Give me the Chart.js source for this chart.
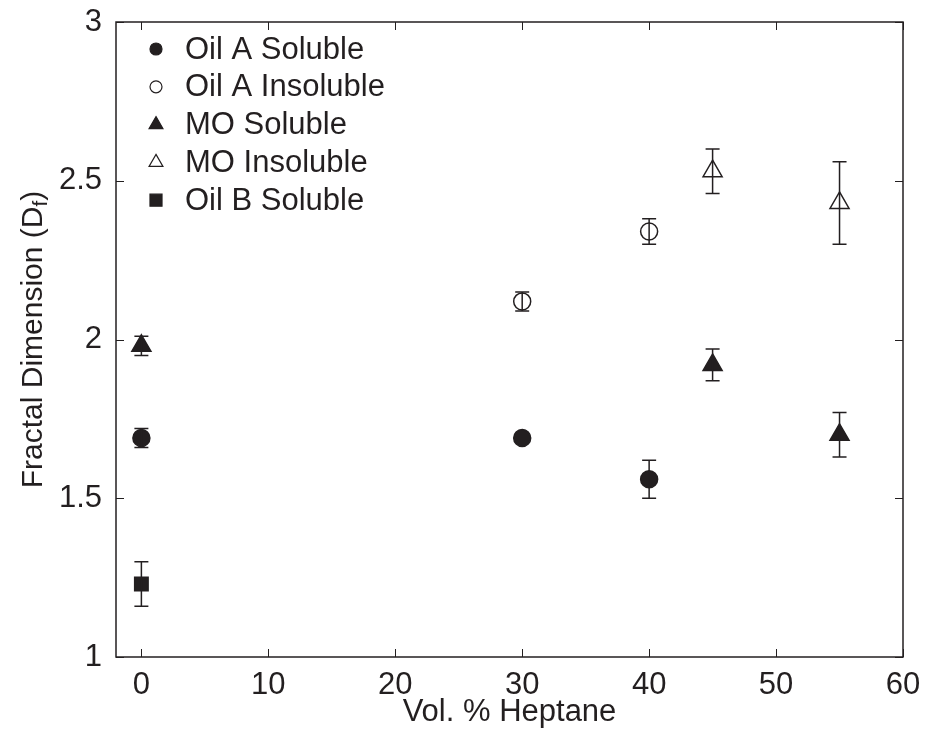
<!DOCTYPE html>
<html>
<head>
<meta charset="utf-8">
<script src="https://cdn.jsdelivr.net/npm/chart.js@4"></script>
<style>
  html, body { margin: 0; padding: 0; background: #fff; }
</style>
</head>
<body>
<canvas id="chart" width="925" height="731"></canvas>
<script>
const xTicks = [0, 10, 20, 30, 40, 50, 60];
const yTicks = [1, 1.5, 2, 2.5, 3];
const yTickLabels = ['1', '1.5', '2', '2.5', '3'];

const oilASolX = [0, 30, 40];
const oilASolY = [1.69, 1.69, 1.56];
const oilASolErr = [0.03, 0, 0.06];

const oilAInsX = [30, 40];
const oilAInsY = [2.12, 2.34];
const oilAInsErr = [0.03, 0.04];

const moSolX = [0, 45, 55];
const moSolY = [1.98, 1.92, 1.70];
const moSolErr = [0.03, 0.05, 0.07];

const moInsX = [45, 55];
const moInsY = [2.53, 2.43];
const moInsErr = [0.07, 0.13];

const oilBSolX = [0];
const oilBSolY = [1.23];
const oilBSolErr = [0.07];

const ink = '#231f20';
const fontFamily = "'Liberation Sans', Arial, Helvetica, sans-serif";
const font = { family: fontFamily, size: 31 };

const pts = (xs, ys) => xs.map((x, i) => ({ x: x, y: ys[i] }));

function series(label, xs, ys, errs, style, filled, radius, legendRadius) {
  return {
    label: label,
    data: pts(xs, ys),
    errors: errs,
    pointStyle: style,
    pointRadius: radius,
    pointHoverRadius: radius,
    pointBackgroundColor: filled ? ink : 'rgba(0,0,0,0)',
    pointBorderColor: ink,
    pointBorderWidth: 1.5,
    showLine: false,
    legendRadius: legendRadius,
    filled: filled
  };
}

const datasets = [
  series('Oil A Soluble', oilASolX, oilASolY, oilASolErr, 'circle', true, 8.5, 6),
  series('Oil A Insoluble', oilAInsX, oilAInsY, oilAInsErr, 'circle', false, 8.5, 6),
  series('MO Soluble', moSolX, moSolY, moSolErr, 'triangle', true, 11, 8),
  series('MO Insoluble', moInsX, moInsY, moInsErr, 'triangle', false, 11, 8),
  series('Oil B Soluble', oilBSolX, oilBSolY, oilBSolErr, 'rect', true, 9.5, 8.5)
];

// vertical error bars with caps
const errorBars = {
  id: 'errorBars',
  afterDatasetsDraw(chart) {
    const ctx = chart.ctx;
    const xs = chart.scales.x, ys = chart.scales.y;
    ctx.save();
    ctx.strokeStyle = ink;
    ctx.lineWidth = 1.5;
    chart.data.datasets.forEach(ds => {
      ds.data.forEach((p, i) => {
        const e = ds.errors[i];
        if (!e) return;
        const px = xs.getPixelForValue(p.x);
        const top = ys.getPixelForValue(p.y + e);
        const bot = ys.getPixelForValue(p.y - e);
        ctx.beginPath();
        ctx.moveTo(px, top); ctx.lineTo(px, bot);
        ctx.moveTo(px - 7, top); ctx.lineTo(px + 7, top);
        ctx.moveTo(px - 7, bot); ctx.lineTo(px + 7, bot);
        ctx.stroke();
      });
    });
    ctx.restore();
  }
};

// box with inward ticks on all four sides
const frame = {
  id: 'frame',
  afterDraw(chart) {
    const ctx = chart.ctx;
    const a = chart.chartArea;
    const xs = chart.scales.x, ys = chart.scales.y;
    const len = 8;
    ctx.save();
    ctx.strokeStyle = ink;
    ctx.lineWidth = 1.5;
    ctx.strokeRect(a.left, a.top, a.right - a.left, a.bottom - a.top);
    ctx.beginPath();
    xTicks.forEach(v => {
      const px = Math.round(xs.getPixelForValue(v)) + 0.5;
      ctx.moveTo(px, a.bottom); ctx.lineTo(px, a.bottom - len);
      ctx.moveTo(px, a.top); ctx.lineTo(px, a.top + len);
    });
    yTicks.forEach(v => {
      const py = Math.round(ys.getPixelForValue(v)) + 0.5;
      ctx.moveTo(a.left, py); ctx.lineTo(a.left + len, py);
      ctx.moveTo(a.right, py); ctx.lineTo(a.right - len, py);
    });
    ctx.lineWidth = 1;
    ctx.stroke();
    ctx.restore();
  }
};

// y title with subscript f
const yTitle = {
  id: 'yTitle',
  afterDraw(chart) {
    const ctx = chart.ctx;
    const a = chart.chartArea;
    const main = '30px ' + fontFamily, sub = '21px ' + fontFamily;
    const t1 = 'Fractal Dimension (D', t2 = 'f', t3 = ')';
    ctx.save();
    ctx.translate(34, (a.top + a.bottom) / 2);
    ctx.rotate(-Math.PI / 2);
    ctx.fillStyle = ink;
    ctx.textBaseline = 'middle';
    ctx.textAlign = 'left';
    ctx.font = main;
    const w1 = ctx.measureText(t1).width, w3 = ctx.measureText(t3).width;
    ctx.font = sub;
    const w2 = ctx.measureText(t2).width;
    let x = -(w1 + w2 + w3) / 2;
    ctx.font = main; ctx.fillText(t1, x, 0); x += w1;
    ctx.font = sub; ctx.fillText(t2, x, 7); x += w2;
    ctx.font = main; ctx.fillText(t3, x, 0);
    ctx.restore();
  }
};

// legend inside the axes, top-left, no box
const legendBox = {
  id: 'legendBox',
  afterDraw(chart) {
    const ctx = chart.ctx;
    const mx = 156, tx = 185, y0 = 49, step = 37.8;
    ctx.save();
    ctx.font = '31px ' + fontFamily;
    ctx.textBaseline = 'middle';
    ctx.textAlign = 'left';
    chart.data.datasets.forEach((ds, i) => {
      const y = y0 + i * step;
      ctx.fillStyle = ds.filled ? ink : 'rgba(0,0,0,0)';
      ctx.strokeStyle = ink;
      ctx.lineWidth = 1.2;
      Chart.helpers.drawPoint(ctx, { pointStyle: ds.pointStyle, radius: ds.legendRadius, rotation: 0, borderWidth: 1.2 }, mx, y);
      ctx.fillStyle = ink;
      ctx.fillText(ds.label, tx, y + 1);
    });
    ctx.restore();
  }
};

new Chart(document.getElementById('chart'), {
  type: 'scatter',
  data: { datasets: datasets },
  options: {
    responsive: false,
    animation: false,
    devicePixelRatio: 1,
    layout: { padding: { left: 0, top: 22, right: 22, bottom: 0 } },
    plugins: { legend: { display: false }, tooltip: { enabled: false } },
    scales: {
      x: {
        type: 'linear', min: -2, max: 60,
        afterBuildTicks: s => { s.ticks = xTicks.map(v => ({ value: v })); },
        afterFit: s => { s.height = 74; s.paddingLeft = 0; s.paddingRight = 0; },
        grid: { display: false },
        border: { display: false },
        ticks: { font: font, color: ink, padding: 2, maxRotation: 0, autoSkip: false },
        title: { display: true, text: 'Vol. % Heptane', font: font, color: ink, padding: { top: 0, bottom: 0 } }
      },
      y: {
        type: 'linear', min: 1, max: 3,
        afterBuildTicks: s => { s.ticks = yTicks.map(v => ({ value: v })); },
        afterFit: s => { s.width = 116; s.paddingTop = 0; s.paddingBottom = 0; },
        grid: { display: false },
        border: { display: false },
        ticks: {
          font: font, color: ink, padding: 6, autoSkip: false,
          callback: v => yTickLabels[yTicks.indexOf(v)]
        }
      }
    }
  },
  plugins: [errorBars, frame, yTitle, legendBox]
});
</script>
</body>
</html>
